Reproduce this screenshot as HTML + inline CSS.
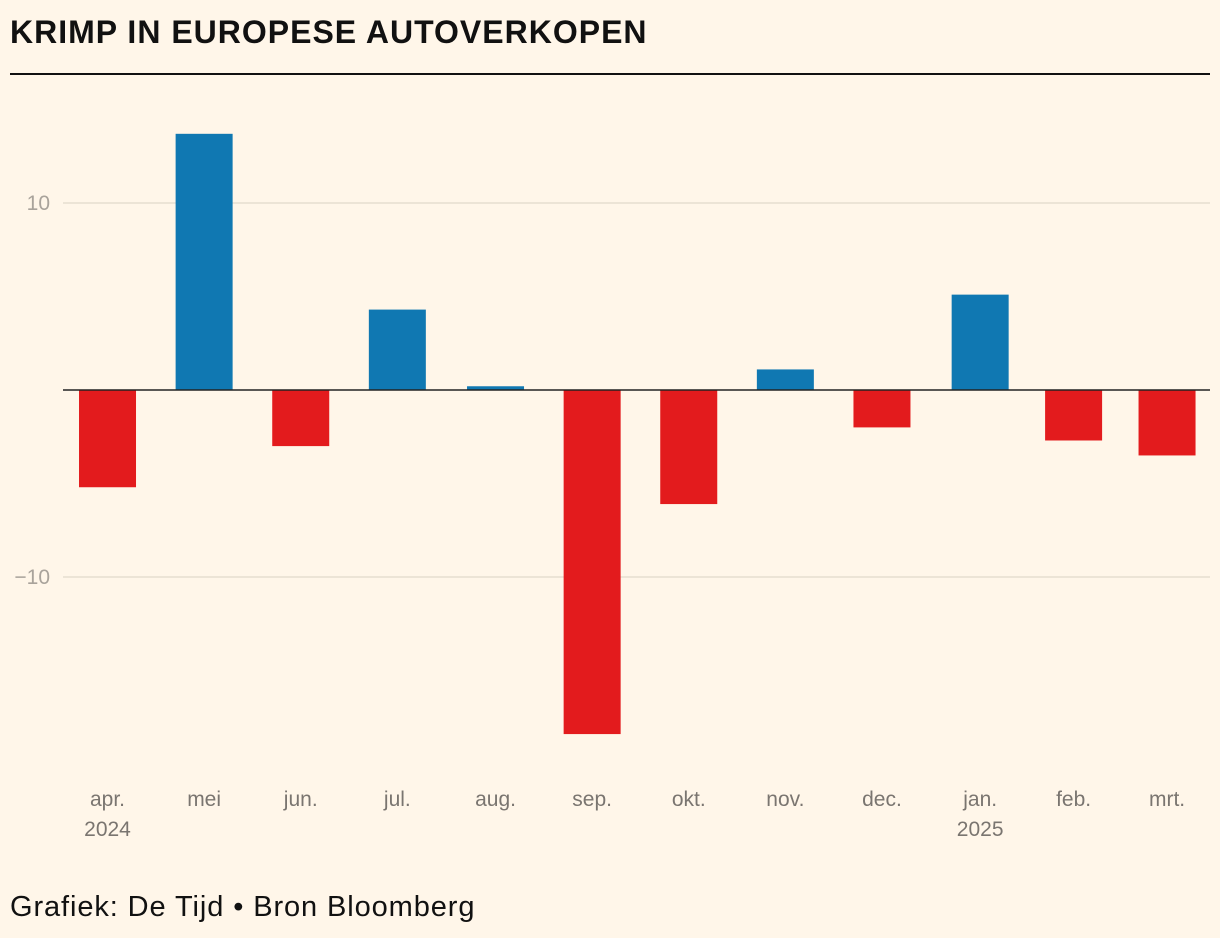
<!DOCTYPE html>
<html><head><meta charset="utf-8">
<style>
body{margin:0;background:#fff6e9;font-family:"Liberation Sans",sans-serif;}
#wrap{position:relative;width:1220px;height:938px;background:#fff6e9;overflow:hidden}
h1{position:absolute;left:10px;top:14px;margin:0;font-size:32px;font-weight:bold;color:#111;letter-spacing:1px}
#rule{position:absolute;left:10px;top:73px;width:1200px;height:2px;background:#111}
#foot{position:absolute;left:10px;top:891px;font-size:29px;color:#111;letter-spacing:0.9px}
svg{position:absolute;left:0;top:0}
</style></head><body>
<div id="wrap">
<h1>KRIMP IN EUROPESE AUTOVERKOPEN</h1>
<div id="rule"></div>
<svg id="chart" width="1220" height="938"></svg>
<div id="foot">Grafiek: De Tijd • Bron Bloomberg</div>
</div>
<script>
const months=["apr.","mei","jun.","jul.","aug.","sep.","okt.","nov.","dec.","jan.","feb.","mrt."];
const years=["2024","","","","","","","","","2025","",""];
const monthDays=[30,31,30,31,31,30,31,30,31,31,28,31];
const values=[-5.2,13.7,-3.0,4.3,0.2,-18.4,-6.1,1.1,-2.0,5.1,-2.7,-3.5];
const yTicks=[10,-10];
const yTickLabels=["10","−10"];
const NS="http://www.w3.org/2000/svg";
const svg=document.getElementById('chart');
const y=v=>390-v*18.7;
const k=3.1675,x0=60;
function mk(t,a){const e=document.createElementNS(NS,t);for(const n in a)e.setAttribute(n,a[n]);svg.appendChild(e);return e;}
yTicks.forEach((t,i)=>{
 const g=mk('line',{x1:63,x2:1210,y1:y(t),y2:y(t),stroke:'#e6ddd0','stroke-width':1.5});
 
 
 const l=mk('text',{x:50,y:y(t)+7,'text-anchor':'end','font-size':21,fill:'#a9a39b'});
 l.textContent=yTickLabels[i];
 
 
});
let acc=0;
values.forEach((v,i)=>{
 const cx=x0+(acc+monthDays[i]/2)*k; acc+=monthDays[i];
 const top=Math.min(y(v),y(0)),h=Math.abs(y(v)-y(0));
 const r=mk('rect',{x:cx-28.5,y:top,width:57,height:Math.max(h,0.5),fill:v>=0?'#1078b2':'#e31b1d'});
 
 
 const t=mk('text',{x:cx,y:806,'text-anchor':'middle','font-size':21,fill:'#7a7570'});
 t.textContent=months[i];
 
 
 if(years[i]){const yt=mk('text',{x:cx,y:836,'text-anchor':'middle','font-size':21,fill:'#7a7570'});
 yt.textContent=years[i];
 
 }
});
const z=mk('line',{x1:63,x2:1210,y1:y(0),y2:y(0),stroke:'#222','stroke-width':1.5});


</script>
</body></html>
